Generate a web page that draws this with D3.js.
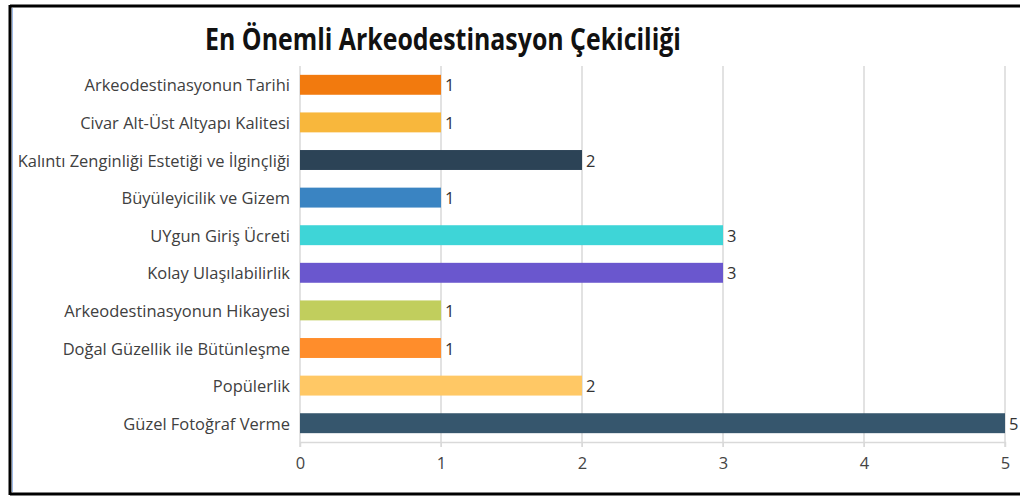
<!DOCTYPE html>
<html lang="tr">
<head>
<meta charset="UTF-8">
<title>En Önemli Arkeodestinasyon Çekiciliği</title>
<script src="https://d3js.org/d3.v7.min.js"></script>
<style>
  body { margin: 0; background: #fff; }
  text { font-family: "Open Sans", sans-serif; }
</style>
</head>
<body>
<svg id="chart" width="1020" height="499"></svg>
<script>
const categories = [
  "Arkeodestinasyonun Tarihi",
  "Civar Alt-Üst Altyapı Kalitesi",
  "Kalıntı Zenginliği Estetiği ve İlginçliği",
  "Büyüleyicilik ve Gizem",
  "UYgun Giriş Ücreti",
  "Kolay Ulaşılabilirlik",
  "Arkeodestinasyonun Hikayesi",
  "Doğal Güzellik ile Bütünleşme",
  "Popülerlik",
  "Güzel Fotoğraf Verme"
];
const values = [1, 1, 2, 1, 3, 3, 1, 1, 2, 5];
const colors = ["#f27a0e", "#f8b73c", "#2c4356", "#3a84c2", "#3ed5d7",
                "#6a57ce", "#c1ce5d", "#ff8d2b", "#ffc865", "#36566d"];
const ticks = [0, 1, 2, 3, 4, 5];
const title = "En Önemli Arkeodestinasyon Çekiciliği";

const squeeze = 0.97;      // labels are a touch narrower in the source
const titleSqueeze = 0.83;

const svg = d3.select("#chart");

// frame
svg.append("line").attr("x1", 10).attr("x2", 1020).attr("y1", 6).attr("y2", 6)
  .attr("stroke", "#000").attr("stroke-width", 3);
svg.append("line").attr("x1", 10).attr("x2", 1020).attr("y1", 494).attr("y2", 494)
  .attr("stroke", "#000").attr("stroke-width", 3);
svg.append("line").attr("x1", 10).attr("x2", 10).attr("y1", 5).attr("y2", 495)
  .attr("stroke", "#000").attr("stroke-width", 3);
svg.append("line").attr("x1", 12.5).attr("x2", 12.5).attr("y1", 8).attr("y2", 492)
  .attr("stroke", "#9db9e6").attr("stroke-width", 1);

const x = d3.scaleLinear().domain([0, 5]).range([300, 1005]);
const y = d3.scaleBand().domain(categories).range([66, 442])
  .paddingInner(0.47).paddingOuter(0.235);

// grid
svg.append("g").selectAll("line").data(ticks).join("line")
  .attr("x1", d => x(d)).attr("x2", d => x(d))
  .attr("y1", 66).attr("y2", 447)
  .attr("stroke", "#d9d9d9").attr("stroke-width", 1.5);

// bottom axis
const xAxis = svg.append("g").attr("transform", "translate(0,442)")
  .call(d3.axisBottom(x).tickValues(ticks).tickFormat(d3.format("d")).tickSize(5).tickPadding(10));
xAxis.select(".domain").attr("stroke", "#d9d9d9").attr("stroke-width", 1.5);
xAxis.selectAll(".tick line").attr("stroke", "#d9d9d9");
xAxis.selectAll(".tick text").attr("font-size", 17).attr("fill", "#444")
  .attr("transform", "scale(" + squeeze + ",1)");

// bars
svg.append("g").selectAll("rect").data(categories).join("rect")
  .attr("x", x(0))
  .attr("y", d => y(d))
  .attr("width", (d, i) => x(values[i]) - x(0))
  .attr("height", y.bandwidth())
  .attr("fill", (d, i) => colors[i]);

// category labels
svg.append("g").selectAll("text").data(categories).join("text")
  .attr("transform", d => "translate(290," + (y(d) + y.bandwidth() / 2) + ") scale(" + squeeze + ",1)")
  .attr("text-anchor", "end")
  .attr("dominant-baseline", "central")
  .attr("font-size", 17)
  .attr("fill", "#404040")
  .text(d => d);

// value labels
svg.append("g").selectAll("text").data(categories).join("text")
  .attr("transform", (d, i) => "translate(" + (x(values[i]) + 4) + "," + (y(d) + y.bandwidth() / 2) + ") scale(" + squeeze + ",1)")
  .attr("dominant-baseline", "central")
  .attr("font-size", 17)
  .attr("fill", "#333")
  .text((d, i) => values[i]);

// title
svg.append("text")
  .attr("transform", "translate(443,50) scale(" + titleSqueeze + ",1)")
  .attr("text-anchor", "middle")
  .attr("font-size", 30)
  .attr("font-weight", "bold")
  .attr("fill", "#111")
  .text(title);
</script>
</body>
</html>
